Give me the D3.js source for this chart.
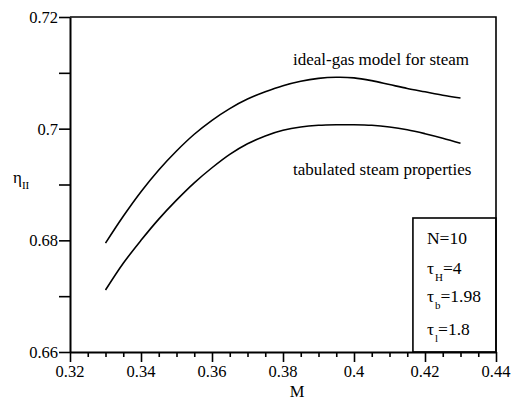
<!DOCTYPE html>
<html>
<head>
<meta charset="utf-8">
<script src="https://cdn.jsdelivr.net/npm/d3@7"></script>
</head>
<body style="margin:0">
<svg id="chart" width="511" height="408" font-family="Liberation Serif" style="font-family: 'Liberation Serif'"></svg>
<script>
// Mach number samples
const machValues = [0.330, 0.335, 0.340, 0.345, 0.350, 0.355, 0.360, 0.365, 0.370, 0.375,
  0.380, 0.385, 0.390, 0.395, 0.400, 0.405, 0.410, 0.415, 0.420, 0.425, 0.430];

// second-law efficiency, ideal-gas model for steam
const idealGasEta = [0.6795, 0.6843, 0.6887, 0.6926, 0.6960, 0.6990, 0.7015, 0.7036, 0.7053, 0.7066,
  0.7077, 0.7085, 0.7090, 0.7092, 0.7091, 0.7086, 0.7079, 0.7072, 0.7066, 0.7060, 0.7055];

// second-law efficiency, tabulated steam properties
const tabulatedEta = [0.6711, 0.6759, 0.6800, 0.6838, 0.6872, 0.6903, 0.6930, 0.6954, 0.6973, 0.6987,
  0.6997, 0.7003, 0.7006, 0.7007, 0.7007, 0.7006, 0.7003, 0.6998, 0.6991, 0.6983, 0.6974];

const xMajorTicks = [0.32, 0.34, 0.36, 0.38, 0.40, 0.42, 0.44];
const xTickLabels = ['0.32', '0.34', '0.36', '0.38', '0.4', '0.42', '0.44'];
const yMajorTicks = [0.66, 0.68, 0.70, 0.72];
const yTickLabels = ['0.66', '0.68', '0.7', '0.72'];

// legend parameters: symbol, subscript, value
const paramSymbols = ['N', 'τ', 'τ', 'τ'];
const paramSubs = ['', 'H', 'b', 'l'];
const paramValues = ['=10', '=4', '=1.98', '=1.8'];

const W = 511, H = 408;
const margin = { top: 17, right: 15, bottom: 56, left: 70 };
const width = W - margin.left - margin.right;
const height = H - margin.top - margin.bottom;
const serif = '"Liberation Serif"';

const svg = d3.select('#chart');
const g = svg.append('g').attr('transform', `translate(${margin.left},${margin.top})`);

const x = d3.scaleLinear().domain([0.32, 0.44]).range([0, width]);
const y = d3.scaleLinear().domain([0.66, 0.72]).range([height, 0]);

// text helper: every label gets the serif face directly
const label = (parent) => parent.append('text').style('font-family', serif).attr('fill', '#000');

// frame (top and right)
g.append('path')
  .attr('d', `M0,0H${width}V${height}`)
  .attr('fill', 'none')
  .attr('stroke', '#000')
  .attr('stroke-width', 1.6);

// x minor ticks
const xMinor = d3.range(24).map((i) => 0.32 + i * 0.005).filter((v, i) => i % 4 !== 0);
g.append('g')
  .attr('transform', `translate(0,${height})`)
  .call(d3.axisBottom(x).tickValues(xMinor).tickSize(5).tickFormat(''))
  .call((a) => a.select('.domain').remove())
  .call((a) => a.selectAll('text').remove())
  .selectAll('line').attr('stroke-width', 1.6);

// x axis (labels drawn separately)
const xAxis = g.append('g')
  .attr('transform', `translate(0,${height})`)
  .call(d3.axisBottom(x).tickValues(xMajorTicks).tickSize(10).tickSizeOuter(0).tickFormat(''));
xAxis.selectAll('text').remove();
xAxis.select('.domain').attr('stroke-width', 2);
xAxis.selectAll('line').attr('stroke-width', 1.6);
xMajorTicks.forEach((v, i) => {
  label(g)
    .attr('x', x(v))
    .attr('y', height + 25)
    .attr('text-anchor', 'middle')
    .attr('font-size', 16.5)
    .text(xTickLabels[i]);
});

// y minor ticks
g.append('g')
  .call(d3.axisLeft(y).tickValues([0.67, 0.69, 0.71]).tickSize(11).tickFormat(''))
  .call((a) => a.select('.domain').remove())
  .call((a) => a.selectAll('text').remove())
  .selectAll('line').attr('stroke-width', 1.6);

// y axis
const yAxis = g.append('g')
  .call(d3.axisLeft(y).tickValues(yMajorTicks).tickSize(11).tickSizeOuter(0).tickFormat(''));
yAxis.selectAll('text').remove();
yAxis.select('.domain').attr('stroke-width', 2);
yAxis.selectAll('line').attr('stroke-width', 1.6);
yMajorTicks.forEach((v, i) => {
  label(g)
    .attr('x', -12)
    .attr('y', y(v) + 6)
    .attr('text-anchor', 'end')
    .attr('font-size', 16.5)
    .text(yTickLabels[i]);
});

// axis titles
label(g)
  .attr('x', x(0.38) + 14)
  .attr('y', height + 45)
  .attr('text-anchor', 'middle')
  .attr('font-size', 16.5)
  .text('M');

const yTitle = label(svg)
  .attr('x', 13)
  .attr('y', 183)
  .attr('font-size', 17);
yTitle.append('tspan').text('η');
yTitle.append('tspan').attr('dy', 6).attr('font-size', 11).text('II');

// curves
const line = d3.line()
  .x((d) => x(d[0]))
  .y((d) => y(d[1]))
  .curve(d3.curveCatmullRom);

[idealGasEta, tabulatedEta].forEach((series) => {
  g.append('path')
    .datum(machValues.map((m, i) => [m, series[i]]))
    .attr('fill', 'none')
    .attr('stroke', '#000')
    .attr('stroke-width', 1.6)
    .attr('d', line);
});

// curve labels
label(g)
  .attr('x', 223)
  .attr('y', 48)
  .attr('font-size', 17)
  .text('ideal-gas model for steam');

label(g)
  .attr('x', 223)
  .attr('y', 158)
  .attr('font-size', 17)
  .text('tabulated steam properties');

// parameter box
const boxX = x(0.4166);
const boxY = y(0.6840);
g.append('rect')
  .attr('x', boxX)
  .attr('y', boxY)
  .attr('width', width - boxX)
  .attr('height', height - boxY)
  .attr('fill', 'none')
  .attr('stroke', '#000')
  .attr('stroke-width', 1.6);

const lineY = [26, 56, 84, 117];
paramSymbols.forEach((s, i) => {
  const t = label(g)
    .attr('x', boxX + 14)
    .attr('y', boxY + lineY[i])
    .attr('font-size', 17.5);
  t.append('tspan').text(s);
  if (paramSubs[i]) {
    t.append('tspan').attr('dy', 7).attr('dx', 1).attr('font-size', 11).text(paramSubs[i]);
    t.append('tspan').attr('dy', -7).text(paramValues[i]);
  } else {
    t.append('tspan').text(paramValues[i]);
  }
});
</script>
</body>
</html>
